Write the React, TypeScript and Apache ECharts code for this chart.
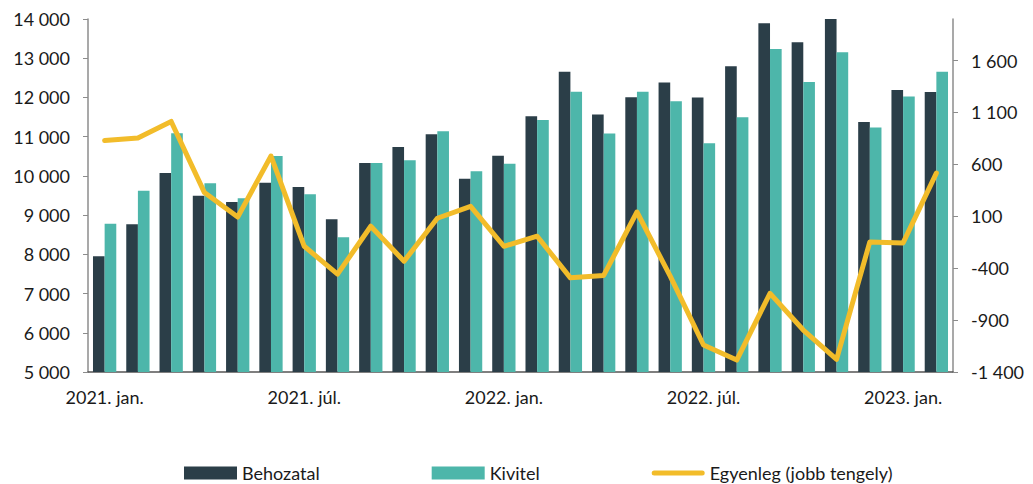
import React, { useEffect, useRef } from "react";
import * as echarts from "echarts";

const categories = [
  "2021. jan.", "2021. febr.", "2021. márc.", "2021. ápr.", "2021. máj.", "2021. jún.",
  "2021. júl.", "2021. aug.", "2021. szept.", "2021. okt.", "2021. nov.", "2021. dec.",
  "2022. jan.", "2022. febr.", "2022. márc.", "2022. ápr.", "2022. máj.", "2022. jún.",
  "2022. júl.", "2022. aug.", "2022. szept.", "2022. okt.", "2022. nov.", "2022. dec.",
  "2023. jan.", "2023. febr.",
];

const behozatal = [
  7950, 8765, 10075, 9496, 9335, 9828, 9718, 8893, 10330, 10738, 11061, 9929,
  10516, 11520, 12658, 11563, 12005, 12383, 11996, 12795, 13892, 13405, 14430, 11375,
  12191, 12140,
];

const kivitel = [
  8782, 9624, 11087, 9810, 9430, 10508, 9531, 8434, 10330, 10398, 11137, 10116,
  10312, 11426, 12148, 11078, 12148, 11900, 10832, 11494, 13236, 12394, 13152, 11231,
  12021, 12658,
];

const egyenleg = [
  830, 853, 1013, 328, 93, 680, -189, -458, 4, -333, 81, 196,
  -189, -92, -493, -470, 141, -477, -1140, -1285, -643, -996, -1278, -147,
  -157, 516,
];

const leftTicks = [5000, 6000, 7000, 8000, 9000, 10000, 11000, 12000, 13000, 14000];
const rightTicks = [-1400, -900, -400, 100, 600, 1100, 1600];

const fmt = (v: number) => {
  const s = Math.abs(v).toString().replace(/\B(?=(\d{3})+(?!\d))/g, " ");
  return (v < 0 ? "-" : "") + s;
};

const FONT = "Lato";
const TEXT = "#1a1a1a";
const AXIS = "#8c8c8c";
const LINE_ICON =
  "path://M0,0 M53,13 M2.5,4 L50.5,4 A2.5,2.5 0 0 1 50.5,9 L2.5,9 A2.5,2.5 0 0 1 2.5,4 Z";

export default function App() {
  const ref = useRef<HTMLDivElement>(null);

  useEffect(() => {
    if (!ref.current) return;
    const chart = echarts.init(ref.current, null, { renderer: "svg" });
    chart.setOption({
      animation: false,
      textStyle: { fontFamily: FONT, color: TEXT },
      grid: { left: 88, right: 80, top: 19, bottom: 112, containLabel: false },
      legend: {
        left: 179,
        top: 459,
        itemWidth: 53,
        itemHeight: 13,
        itemGap: 112,
        textStyle: { fontFamily: FONT, fontSize: 18, lineHeight: 18, color: TEXT },
        data: [
          { name: "Behozatal", icon: "rect" },
          { name: "Kivitel", icon: "rect" },
          { name: "Egyenleg (jobb tengely)", icon: LINE_ICON },
        ],
      },
      xAxis: {
        type: "category",
        data: categories,
        boundaryGap: true,
        axisLine: { onZero: false, lineStyle: { color: "#555555", width: 1.5 } },
        axisTick: { interval: 5, length: 5, lineStyle: { color: "#555555" } },
        axisLabel: {
          interval: 5,
          margin: 16,
          fontFamily: FONT,
          fontSize: 18,
          color: TEXT,
        },
      },
      yAxis: [
        {
          type: "value",
          min: 5000,
          max: 14000,
          interval: 1000,
          splitLine: { show: false },
          axisLine: { show: true, lineStyle: { color: AXIS, width: 1.5 } },
          axisTick: { show: true, length: 5, lineStyle: { color: AXIS } },
          axisLabel: {
            margin: 18,
            fontFamily: FONT,
            fontSize: 18,
            color: TEXT,
            customValues: leftTicks,
            formatter: (v: number) => fmt(v),
          },
        },
        {
          type: "value",
          min: -1400,
          max: 2000,
          interval: 500,
          position: "right",
          splitLine: { show: false },
          axisLine: { show: true, onZero: false, lineStyle: { color: AXIS, width: 1.5 } },
          axisTick: {
            show: true,
            length: 5,
            lineStyle: { color: AXIS },
            customValues: rightTicks,
          },
          axisLabel: {
            margin: 18,
            fontFamily: FONT,
            fontSize: 18,
            color: TEXT,
            customValues: rightTicks,
            formatter: (v: number) => (v > 1600 ? "" : fmt(v)),
          },
        },
      ],
      series: [
        {
          name: "Behozatal",
          type: "bar",
          data: behozatal,
          barGap: "0%",
          barCategoryGap: "30%",
          itemStyle: { color: "#2b3e48" },
        },
        {
          name: "Kivitel",
          type: "bar",
          data: kivitel,
          barGap: "0%",
          barCategoryGap: "30%",
          itemStyle: { color: "#4db6aa" },
        },
        {
          name: "Egyenleg (jobb tengely)",
          type: "line",
          yAxisIndex: 1,
          data: egyenleg,
          symbol: "none",
          z: 5,
          lineStyle: { color: "#f2bc2a", width: 5, cap: "round", join: "round" },
          itemStyle: { color: "#f2bc2a" },
        },
      ],
    });
    return () => chart.dispose();
  }, []);

  return (
    <div
      ref={ref}
      style={{ position: "fixed", left: 0, top: 0, width: 1033, height: 484, background: "#fff" }}
    />
  );
}
